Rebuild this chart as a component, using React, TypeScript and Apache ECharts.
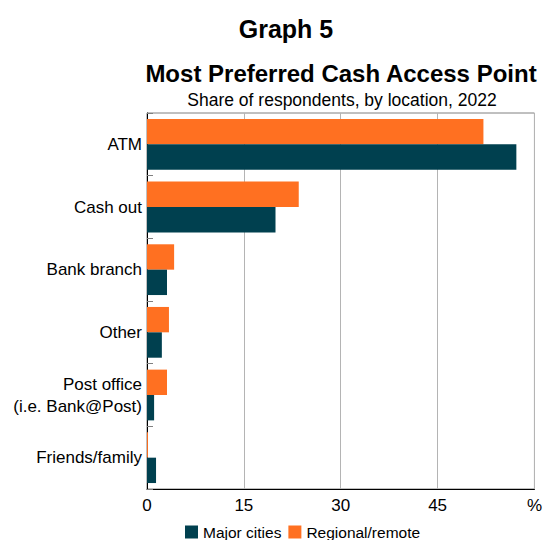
import React, { useEffect, useRef } from "react";
import * as echarts from "echarts";

const categories = [
  "ATM",
  "Cash out",
  "Bank branch",
  "Other",
  "Post office\n(i.e. Bank@Post)",
  "Friends/family",
];
const majorCities = [57.2, 19.9, 3.1, 2.3, 1.1, 1.4];
const regionalRemote = [52.1, 23.5, 4.2, 3.4, 3.1, 0.15];
const xTicks = [0, 15, 30, 45, 60];

const FONT = "'Liberation Sans', Arial, Helvetica, sans-serif";

export default function App() {
  const ref = useRef<HTMLDivElement>(null);
  useEffect(() => {
    if (!ref.current) return;
    const chart = echarts.init(ref.current, undefined, { renderer: "svg" });
    chart.setOption({
      animation: false,
      backgroundColor: "#ffffff",
      textStyle: { fontFamily: FONT },
      graphic: [
        {
          type: "text",
          x: 286,
          y: 29,
          style: {
            text: "Graph 5",
            font: `bold 25px ${FONT}`,
            fill: "#000",
            textAlign: "center",
            textVerticalAlign: "middle",
          },
        },
        {
          type: "text",
          x: 341,
          y: 73.5,
          style: {
            text: "Most Preferred Cash Access Point",
            font: `bold 24px ${FONT}`,
            fill: "#000",
            textAlign: "center",
            textVerticalAlign: "middle",
          },
        },
        {
          type: "text",
          x: 342,
          y: 100,
          style: {
            text: "Share of respondents, by location, 2022",
            font: `17.5px ${FONT}`,
            fill: "#000",
            textAlign: "center",
            textVerticalAlign: "middle",
          },
        },
      ],
      legend: {
        left: 185,
        top: 524,
        padding: 0,
        itemWidth: 13,
        itemHeight: 13,
        itemGap: 7,
        icon: "rect",
        textStyle: { fontSize: 15.5, color: "#000", fontFamily: FONT },
        data: ["Major cities", "Regional/remote"],
      },
      grid: {
        left: 147,
        right: 6,
        top: 113,
        bottom: 51,
        show: true,
        borderColor: "#808080",
        borderWidth: 1,
        containLabel: false,
      },
      xAxis: {
        type: "value",
        min: xTicks[0],
        max: xTicks[xTicks.length - 1],
        interval: 15,
        axisLine: { show: true, lineStyle: { color: "#000", width: 1 } },
        axisTick: { show: false },
        splitLine: { show: true, lineStyle: { color: "#b4b4b4", width: 1 } },
        axisLabel: {
          fontSize: 17,
          color: "#000",
          fontFamily: FONT,
          margin: 8,
          formatter: (v: number) => (v === 60 ? "%" : String(v)),
        },
      },
      yAxis: {
        type: "category",
        data: categories,
        inverse: true,
        axisLine: { show: true, lineStyle: { color: "#000", width: 1 } },
        axisTick: {
          show: true,
          inside: true,
          length: 6,
          lineStyle: { color: "#808080" },
        },
        axisLabel: {
          fontSize: 17,
          color: "#000",
          fontFamily: FONT,
          margin: 5,
          lineHeight: 22,
          align: "right",
        },
        splitLine: { show: false },
      },
      series: [
        {
          name: "Regional/remote",
          type: "bar",
          data: regionalRemote,
          itemStyle: { color: "#ff7021" },
          barGap: "0%",
          barCategoryGap: "19%",
        },
        {
          name: "Major cities",
          type: "bar",
          data: majorCities,
          itemStyle: { color: "#00404f" },
          barGap: "0%",
          barCategoryGap: "19%",
        },
      ],
    });
    return () => chart.dispose();
  }, []);
  return (
    <div
      ref={ref}
      style={{ position: "fixed", left: 0, top: 0, width: 545, height: 540 }}
    />
  );
}
